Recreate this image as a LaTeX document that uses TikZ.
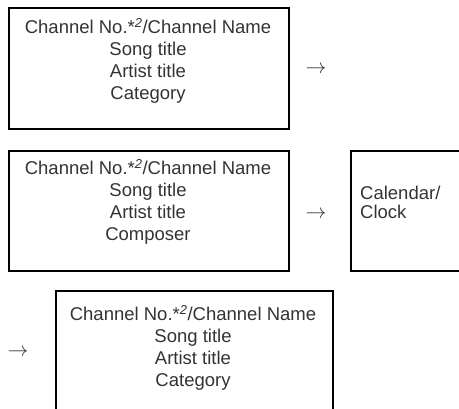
\documentclass[tikz,border=0pt]{standalone}
\usepackage{fontspec}
\setmainfont{Liberation Sans}
\usetikzlibrary{positioning}
\newcommand{\chname}{Channel No.*\textsuperscript{\itshape 2}/Channel Name}
\begin{document}
\begin{tikzpicture}[x=1pt,y=-1pt,
 frame/.style={draw,line width=1.6pt,anchor=north west,inner sep=0pt},
 lines/.style={align=center,text=black!80,font=\fontsize{18.5}{22}\selectfont,anchor=base,inner sep=0pt},
 arr/.style={text=black!80,font=\fontsize{20}{22}\selectfont,inner sep=0pt}]
\useasboundingbox(0,0)rectangle(459,409);
\clip(0,0)rectangle(459,409);
% first row
\node[frame,minimum width=280,minimum height=121](b1)at(8,7){};
\node[lines](t1)at(148,100){\chname\\Song title\\Artist title\\Category};
\node[arr](a1)at(316,70){$\rightarrow$};
% second row
\node[frame,minimum width=280,minimum height=120](b2)at(8,150){};
\node[lines](t2)at(148,241){\chname\\Song title\\Artist title\\Composer};
\node[arr](a2)at(316,215){$\rightarrow$};
\node[frame,minimum width=200,minimum height=120](b3)at(350,150){};
\node[lines,align=left,anchor=base west,font=\fontsize{18.5}{19}\selectfont](t3)at(360,219){Calendar/\\Clock};
% third row
\node[arr](a3)at(18,353){$\rightarrow$};
\node[frame,minimum width=277,minimum height=150](b4)at(55,290){};
\node[lines](t4)at(193,387){\chname\\Song title\\Artist title\\Category};
\end{tikzpicture}
\end{document}
